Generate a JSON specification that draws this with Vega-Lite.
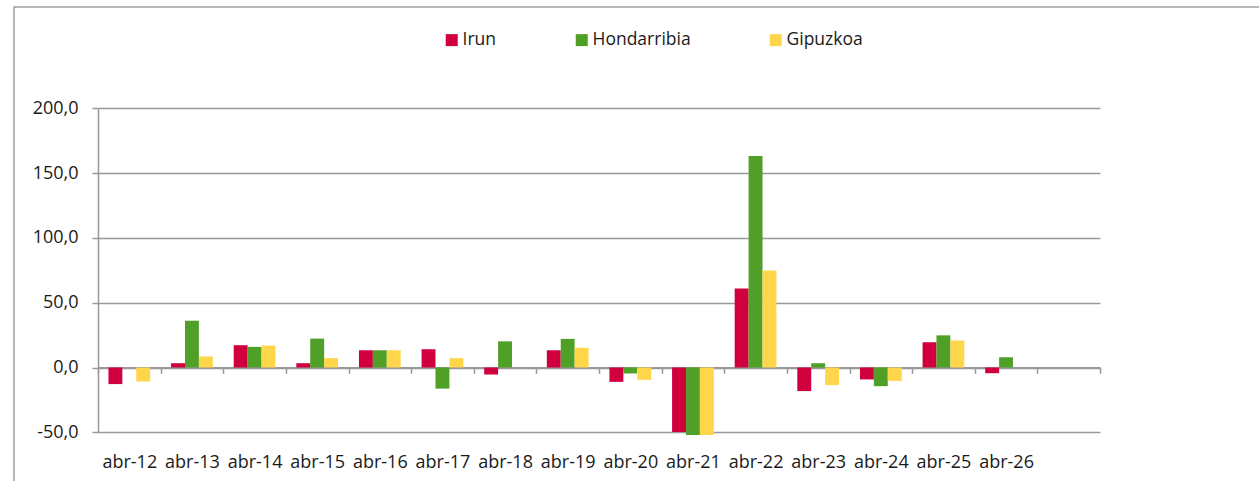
{
  "$schema": "https://vega.github.io/schema/vega-lite/v6.json",
  "autosize": {"type": "none"},
  "padding": {"left": 14, "top": 7, "right": -4, "bottom": -4},
  "width": 1249,
  "height": 478,
  "background": "white",
  "config": {
    "view": {"stroke": "#a0a0a0", "strokeWidth": 1.5},
    "font": "Open Sans"
  },
  "data": {
    "values": [
      {"mes": "abr-12", "zona": "Irun", "valor": -12.8},
      {"mes": "abr-12", "zona": "Gipuzkoa", "valor": -10.8},
      {"mes": "abr-13", "zona": "Irun", "valor": 3.3},
      {"mes": "abr-13", "zona": "Hondarribia", "valor": 36.1},
      {"mes": "abr-13", "zona": "Gipuzkoa", "valor": 8.5},
      {"mes": "abr-14", "zona": "Irun", "valor": 17.2},
      {"mes": "abr-14", "zona": "Hondarribia", "valor": 15.9},
      {"mes": "abr-14", "zona": "Gipuzkoa", "valor": 16.9},
      {"mes": "abr-15", "zona": "Irun", "valor": 3.3},
      {"mes": "abr-15", "zona": "Hondarribia", "valor": 22.3},
      {"mes": "abr-15", "zona": "Gipuzkoa", "valor": 7.2},
      {"mes": "abr-16", "zona": "Irun", "valor": 13.3},
      {"mes": "abr-16", "zona": "Hondarribia", "valor": 13.3},
      {"mes": "abr-16", "zona": "Gipuzkoa", "valor": 13.3},
      {"mes": "abr-17", "zona": "Irun", "valor": 14.1},
      {"mes": "abr-17", "zona": "Hondarribia", "valor": -16.3},
      {"mes": "abr-17", "zona": "Gipuzkoa", "valor": 7.2},
      {"mes": "abr-18", "zona": "Irun", "valor": -5.4},
      {"mes": "abr-18", "zona": "Hondarribia", "valor": 20.2},
      {"mes": "abr-19", "zona": "Irun", "valor": 13.3},
      {"mes": "abr-19", "zona": "Hondarribia", "valor": 22.1},
      {"mes": "abr-19", "zona": "Gipuzkoa", "valor": 15.2},
      {"mes": "abr-20", "zona": "Irun", "valor": -11.1},
      {"mes": "abr-20", "zona": "Hondarribia", "valor": -4.6},
      {"mes": "abr-20", "zona": "Gipuzkoa", "valor": -9.5},
      {"mes": "abr-21", "zona": "Irun", "valor": -49.8},
      {"mes": "abr-21", "zona": "Hondarribia", "valor": -52.1},
      {"mes": "abr-21", "zona": "Gipuzkoa", "valor": -52.0},
      {"mes": "abr-22", "zona": "Irun", "valor": 60.9},
      {"mes": "abr-22", "zona": "Hondarribia", "valor": 163.1},
      {"mes": "abr-22", "zona": "Gipuzkoa", "valor": 74.8},
      {"mes": "abr-23", "zona": "Irun", "valor": -18.2},
      {"mes": "abr-23", "zona": "Hondarribia", "valor": 3.3},
      {"mes": "abr-23", "zona": "Gipuzkoa", "valor": -13.6},
      {"mes": "abr-24", "zona": "Irun", "valor": -9.2},
      {"mes": "abr-24", "zona": "Hondarribia", "valor": -14.4},
      {"mes": "abr-24", "zona": "Gipuzkoa", "valor": -10.3},
      {"mes": "abr-25", "zona": "Irun", "valor": 19.5},
      {"mes": "abr-25", "zona": "Hondarribia", "valor": 24.8},
      {"mes": "abr-25", "zona": "Gipuzkoa", "valor": 20.8},
      {"mes": "abr-26", "zona": "Irun", "valor": -4.4},
      {"mes": "abr-26", "zona": "Hondarribia", "valor": 7.9}
    ]
  },
  "mark": {"type": "bar"},
  "encoding": {
    "x": {
      "field": "mes",
      "type": "nominal",
      "scale": {
        "domain": ["abr-12", "abr-13", "abr-14", "abr-15", "abr-16", "abr-17", "abr-18", "abr-19", "abr-20", "abr-21", "abr-22", "abr-23", "abr-24", "abr-25", "abr-26", "abr-27"],
        "range": [84, 1086],
        "paddingInner": 0,
        "paddingOuter": 0
      },
      "axis": {
        "title": null,
        "orient": "bottom",
        "offset": -117.7,
        "tickBand": "extent",
        "tickSize": 6,
        "tickWidth": 1.5,
        "tickColor": "#999999",
        "domainColor": "#999999",
        "domainWidth": 1.5,
        "labelPadding": 80,
        "labelFontSize": 18,
        "labelColor": "#1a1a1a",
        "labelAngle": 0,
        "labelExpr": "datum.value == 'abr-27' ? '' : datum.value",
        "grid": false
      }
    },
    "xOffset": {
      "field": "zona",
      "type": "nominal",
      "scale": {"domain": ["Irun", "Hondarribia", "Gipuzkoa"], "paddingOuter": 0.75, "paddingInner": 0}
    },
    "y": {
      "field": "valor",
      "type": "quantitative",
      "scale": {"domain": [-50, 200], "range": [425.3, 101.3], "nice": false, "zero": false},
      "axis": {
        "title": null,
        "values": [-50, 0, 50, 100, 150, 200],
        "offset": -84,
        "labelExpr": "(datum.value < 0 ? '-' : '') + replace(format(abs(datum.value), '.1f'), '.', ',')",
        "labelFontSize": 18,
        "labelColor": "#1a1a1a",
        "labelPadding": 14,
        "tickSize": 6,
        "tickWidth": 1.5,
        "tickColor": "#999999",
        "domainColor": "#999999",
        "domainWidth": 1.5,
        "grid": true,
        "gridColor": "#999999",
        "gridWidth": 1.5
      }
    },
    "color": {
      "field": "zona",
      "type": "nominal",
      "scale": {"domain": ["Irun", "Hondarribia", "Gipuzkoa"], "range": ["#d0003f", "#50a028", "#ffd54a"]},
      "legend": {
        "orient": "none",
        "legendX": 429,
        "legendY": 24,
        "direction": "horizontal",
        "title": null,
        "symbolType": "square",
        "symbolSize": 144,
        "symbolStrokeWidth": 0,
        "labelFontSize": 17.5,
        "labelColor": "#1a1a1a",
        "labelOffset": 2,
        "columnPadding": 76,
        "padding": 0
      }
    }
  }
}
